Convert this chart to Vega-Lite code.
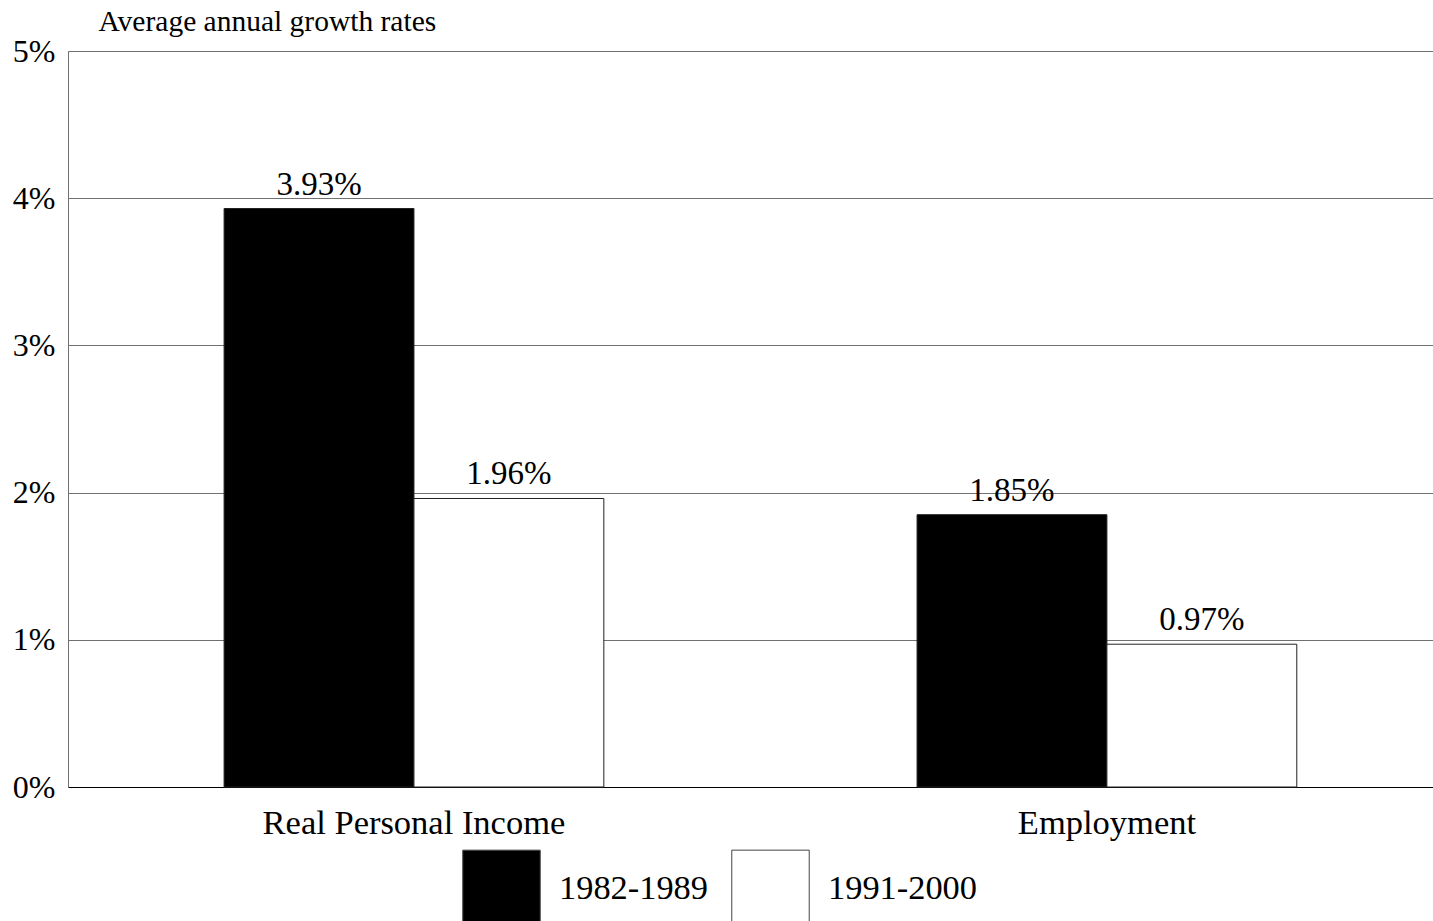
{
  "$schema": "https://vega.github.io/schema/vega-lite/v6.json",
  "width": 1365,
  "height": 736,
  "autosize": {"type": "none"},
  "padding": {"left": 68, "top": 51, "right": 0, "bottom": 134},
  "background": "white",
  "data": {
    "values": [
      {"measure": "Real Personal Income", "period": "1982-1989", "growth": 0.0393},
      {"measure": "Real Personal Income", "period": "1991-2000", "growth": 0.0196},
      {"measure": "Employment", "period": "1982-1989", "growth": 0.0185},
      {"measure": "Employment", "period": "1991-2000", "growth": 0.0097}
    ]
  },
  "encoding": {
    "x": {
      "field": "measure",
      "type": "nominal",
      "sort": ["Real Personal Income", "Employment"],
      "title": null,
      "scale": {"paddingInner": 0.452, "paddingOuter": 0.2109, "align": 0.534},
      "axis": {
        "labelAngle": 0,
        "labelFont": "Liberation Serif",
        "labelFontSize": 34.5,
        "labelColor": "black",
        "labelPadding": 19,
        "labelLimit": 600,
        "ticks": false,
        "domainColor": "black",
        "domainWidth": 1
      }
    },
    "xOffset": {
      "field": "period",
      "type": "nominal",
      "sort": ["1982-1989", "1991-2000"],
      "scale": {"paddingInner": 0, "paddingOuter": 0}
    },
    "y": {
      "field": "growth",
      "type": "quantitative",
      "scale": {"domain": [0, 0.05], "nice": false},
      "title": "Average annual growth rates",
      "axis": {
        "values": [0, 0.01, 0.02, 0.03, 0.04, 0.05],
        "format": ".0%",
        "labelFont": "Liberation Serif",
        "labelFontSize": 32,
        "labelColor": "black",
        "labelPadding": 13,
        "ticks": false,
        "grid": true,
        "gridColor": "#707070",
        "gridWidth": 1,
        "domainColor": "#707070",
        "titleAngle": 0,
        "titleX": 30,
        "titleY": -21,
        "titleAlign": "left",
        "titleBaseline": "alphabetic",
        "titleFont": "Liberation Serif",
        "titleFontSize": 29.5,
        "titleFontWeight": "normal",
        "titleColor": "black"
      }
    }
  },
  "layer": [
    {
      "mark": {"type": "bar", "stroke": "#222", "strokeWidth": 1},
      "encoding": {
        "color": {
          "field": "period",
          "type": "nominal",
          "sort": ["1982-1989", "1991-2000"],
          "scale": {"range": ["black", "white"]},
          "legend": {
            "title": null,
            "orient": "none",
            "direction": "horizontal",
            "legendX": 394,
            "legendY": 798,
            "padding": 0,
            "symbolType": "square",
            "symbolSize": 6000,
            "symbolStrokeColor": "#444",
            "symbolStrokeWidth": 1,
            "symbolOpacity": 1,
            "labelFont": "Liberation Serif",
            "labelFontSize": 34.4,
            "labelColor": "black",
            "labelOffset": 18,
            "columnPadding": 20,
            "labelLimit": 300
          }
        }
      }
    },
    {
      "mark": {
        "type": "text",
        "font": "Liberation Serif",
        "fontSize": 33,
        "color": "black",
        "baseline": "alphabetic",
        "dy": -14
      },
      "encoding": {
        "text": {"field": "growth", "type": "quantitative", "format": ".2%"}
      }
    }
  ]
}
